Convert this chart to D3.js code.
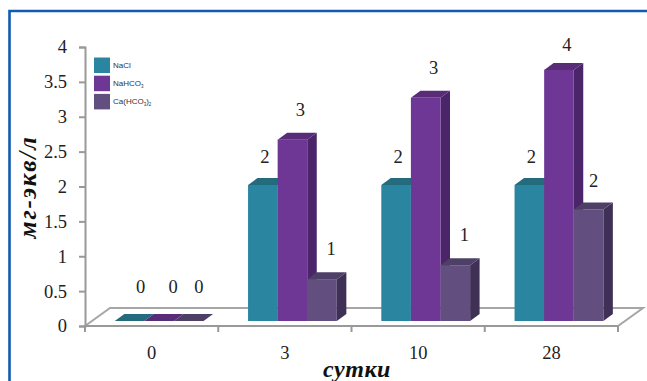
<!DOCTYPE html>
<html><head><meta charset="utf-8">
<script src="https://cdn.jsdelivr.net/npm/d3@7"></script>
<style>html,body{margin:0;padding:0;background:#fff}svg{display:block}</style>
</head><body><div id="c"></div>
<script>
const categories = ["0","3","10","28"];
const seriesNames = ["NaCl","NaHCO3","Ca(HCO3)2"];
const naCl = [0,1.95,1.95,1.95];
const naHCO3 = [0,2.6,3.2,3.6];
const caHCO3 = [0,0.6,0.8,1.6];
const labelsNaCl = ["0","2","2","2"];
const labelsNaHCO3 = ["0","3","3","4"];
const labelsCa = ["0","1","1","2"];
const yTicks = [0,0.5,1,1.5,2,2.5,3,3.5,4];
const yTickLabels = ["0","0.5","1","1.5","2","2.5","3","3.5","4"];
const seriesValues = [naCl,naHCO3,caHCO3];
const seriesLabels = [labelsNaCl,labelsNaHCO3,labelsCa];

const W=647,H=381, serif="'Liberation Serif','DejaVu Serif',serif";
const svg=d3.select("#c").append("svg").attr("width",W).attr("height",H);
const front=["#2a86a0","#6f3795","#624f80"], top_=["#236b7d","#582c77","#4e3f66"], side=["#1f5f70","#4b2569","#3f3155"];

// frame
svg.append("path").attr("d","M9.5,381V11H647").attr("fill","none").attr("stroke","#0f5cb0").attr("stroke-width",2.6);

const x=d3.scaleBand().domain(categories).range([85,618]);
const yAxisScale=d3.scaleLinear().domain([0,4]).range([326,47]);
const yBar=d3.scaleLinear().domain([0,4]).range([321,42]);
const gx=d3.scaleBand().domain(d3.range(3)).range([29.8,118.6]);
const dxD=9.5, dyD=7;

// floor
const fl=d3.path();
fl.moveTo(85,326);fl.lineTo(110,308);fl.lineTo(643,308);fl.lineTo(618,326);fl.closePath();
svg.append("path").attr("d",fl).attr("fill","#fff").attr("stroke","#a6a6a6").attr("stroke-width",2);

// axes
const axY=d3.axisLeft(yAxisScale).tickValues(yTicks).tickFormat((d,i)=>yTickLabels[i]).tickSize(6).tickPadding(12);
const gy=svg.append("g").attr("transform","translate(85,0)").call(axY);
const axX=d3.axisBottom(x).tickSize(6).tickPadding(14);
const gxa=svg.append("g").attr("transform","translate(0,326)").call(axX);
[gy,gxa].forEach(g=>{g.selectAll("path,line").attr("stroke","#999").attr("stroke-width",2);
 g.selectAll("text").attr("font-family",serif).attr("font-size",18.5).attr("fill","#222");});
gxa.selectAll(".domain").attr("d","M85,0H618");
gxa.selectAll(".tick line").remove();
gxa.selectAll(".edge").data(d3.range(5)).enter().append("line").attr("class","edge")
  .attr("x1",i=>85+i*x.step()).attr("x2",i=>85+i*x.step()).attr("y1",0).attr("y2",6).attr("stroke","#999").attr("stroke-width",2);

// bars: drawn left to right so each bar's front covers the neighbour's side face
categories.forEach((c,ci)=>{
  [0,1,2].forEach(si=>{
    const v=seriesValues[si][ci], bx=x(c)+gx(si), w=gx.bandwidth(), ty=yBar(v), by=yBar(0);
    const g=svg.append("g");
    g.append("path").attr("d",`M${bx+w},${ty}L${bx+w+dxD},${ty-dyD}L${bx+w+dxD},${by-dyD}L${bx+w},${by}Z`).attr("fill",side[si]);
    g.append("path").attr("d",`M${bx},${ty}L${bx+dxD},${ty-dyD}L${bx+w+dxD},${ty-dyD}L${bx+w},${ty}Z`).attr("fill",top_[si]);
    if(v>0) g.append("rect").attr("x",bx).attr("y",ty).attr("width",w).attr("height",by-ty).attr("fill",front[si]);
  });
});
// value labels
const lblDx=[2,8,9];
const lblDx0=[11,14,10];
categories.forEach((c,ci)=>{
  [0,1,2].forEach(si=>{
    const v=seriesValues[si][ci], bx=x(c)+gx(si)+gx.bandwidth()/2;
    let dx=ci===0?lblDx0[si]:lblDx[si], dy=ci===0?-28:-24;
    if(si===0&&ci>0) dy+=2;
    if(ci===3&&si===1) dy+=5;
    if(ci===3&&si===2){dx-=4;dy+=2;}
    svg.append("text").attr("x",bx+dx).attr("y",yBar(v)+dy)
      .attr("text-anchor","middle").attr("font-family",serif).attr("font-size",18.5).attr("fill","#222").text(seriesLabels[si][ci]);
  });
});

// legend
const leg=svg.append("g");
seriesNames.forEach((n,i)=>{
  leg.append("rect").attr("x",94).attr("y",57.5+i*18.2).attr("width",16).attr("height",15.5).attr("fill",front[i]);
  const t=leg.append("text").attr("x",113).attr("y",68+i*18).attr("font-family","'Liberation Sans',Arial,sans-serif").attr("font-size",8).attr("fill","#333");
  if(i===0) t.text(n);
  else if(i===1){t.append("tspan").text("NaHCO");t.append("tspan").attr("font-size",4.5).attr("dy",1.5).text("3");}
  else {t.append("tspan").text("Ca(HCO");t.append("tspan").attr("font-size",4.5).attr("dy",1.5).text("3");t.append("tspan").attr("dy",-1.5).text(")");t.append("tspan").attr("font-size",4.5).attr("dy",1.5).text("2");}
});

// titles
svg.append("text").attr("transform","translate(36,187) rotate(-90)").attr("text-anchor","middle").attr("letter-spacing",1.8)
  .attr("font-family",serif).attr("font-style","italic").attr("font-weight","bold").attr("font-size",25).attr("fill","#111").text("мг-экв/л");
svg.append("text").attr("x",357).attr("y",377).attr("text-anchor","middle").attr("letter-spacing",0.5)
  .attr("font-family",serif).attr("font-style","italic").attr("font-weight","bold").attr("font-size",24).attr("fill","#111").text("сутки");
</script></body></html>
